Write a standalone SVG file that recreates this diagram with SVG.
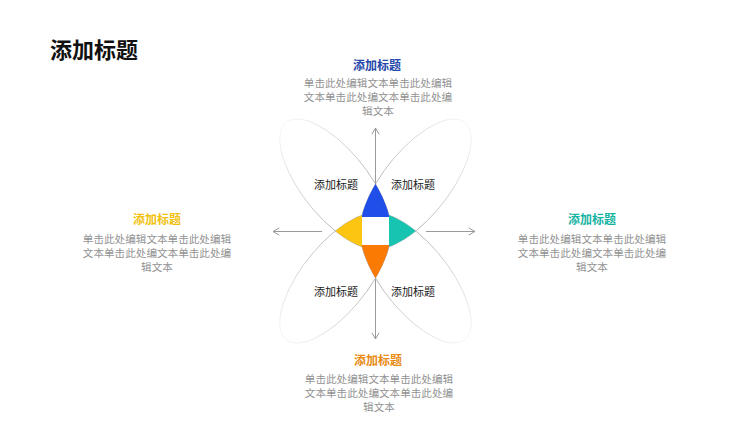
<svg xmlns="http://www.w3.org/2000/svg" width="750" height="422" viewBox="0 0 750 422">
<style>
  .cjk{font-family:"Noto Sans CJK SC","Noto Sans",sans-serif;}
  .h{font-size:12px;font-weight:bold;text-anchor:middle}
  .b{font-size:10.6px;fill:#929292;text-anchor:middle}
  .lab{font-size:11px;fill:#1a1a1a;text-anchor:middle}
  .ell{fill:none;stroke-width:1;vector-effect:non-scaling-stroke}
  .arrow{stroke:#9a9a9a;stroke-width:1;fill:none;marker-end:url(#arr)}
</style>
<defs>
  <linearGradient id="gL" x1="0" y1="0" x2="1" y2="0">
    <stop offset="0" stop-color="#f4f4f4"/>
    <stop offset="0.5" stop-color="#c8c8c8"/>
    <stop offset="1" stop-color="#989898"/>
  </linearGradient>
  <linearGradient id="gR" x1="1" y1="0" x2="0" y2="0">
    <stop offset="0" stop-color="#f4f4f4"/>
    <stop offset="0.5" stop-color="#c8c8c8"/>
    <stop offset="1" stop-color="#989898"/>
  </linearGradient>
  <clipPath id="cUL"><ellipse cx="0" cy="0" rx="72" ry="31" transform="translate(-40.3,-40.3) rotate(45)"/></clipPath>
  <clipPath id="cUR"><ellipse cx="0" cy="0" rx="72" ry="31" transform="translate(40.3,-40.3) rotate(-45)"/></clipPath>
  <clipPath id="cLL"><ellipse cx="0" cy="0" rx="72" ry="31" transform="translate(-40.3,40.3) rotate(-45)"/></clipPath>
  <clipPath id="cLR"><ellipse cx="0" cy="0" rx="72" ry="31" transform="translate(40.3,40.3) rotate(45)"/></clipPath>
  <clipPath id="sT"><rect x="-100" y="-100" width="200" height="88"/></clipPath>
  <clipPath id="sB"><rect x="-100" y="12" width="200" height="88"/></clipPath>
  <clipPath id="sL"><rect x="-100" y="-100" width="86.5" height="200"/></clipPath>
  <clipPath id="sR"><rect x="13.5" y="-100" width="86.5" height="200"/></clipPath>
  <marker id="arr" viewBox="0 0 10 10" refX="9" refY="5" markerWidth="9" markerHeight="9" markerUnits="userSpaceOnUse" orient="auto">
    <path d="M2,1 L9,5 L2,9" fill="none" stroke="#9a9a9a" stroke-width="1.1"/>
  </marker>
</defs>
<rect width="750" height="422" fill="#ffffff"/>

<g id="page-title">
  <text class="cjk" x="50" y="58" font-size="22" font-weight="bold" fill="#111">添加标题</text>
</g>

<g id="flower" transform="translate(375.5,231) scale(1,1.17)">
  <ellipse class="ell" stroke="url(#gL)" cx="0" cy="0" rx="72" ry="31" transform="translate(-40.3,-40.3) rotate(45)"/>
  <ellipse class="ell" stroke="url(#gR)" cx="0" cy="0" rx="72" ry="31" transform="translate(40.3,-40.3) rotate(-45)"/>
  <ellipse class="ell" stroke="url(#gL)" cx="0" cy="0" rx="72" ry="31" transform="translate(-40.3,40.3) rotate(-45)"/>
  <ellipse class="ell" stroke="url(#gR)" cx="0" cy="0" rx="72" ry="31" transform="translate(40.3,40.3) rotate(45)"/>
  <g id="petal-blue" clip-path="url(#sT)"><g clip-path="url(#cUL)"><ellipse cx="0" cy="0" rx="72" ry="31" transform="translate(40.3,-40.3) rotate(-45)" fill="#1f4fe8"/></g></g>
  <g id="petal-teal" clip-path="url(#sR)"><g clip-path="url(#cUR)"><ellipse cx="0" cy="0" rx="72" ry="31" transform="translate(40.3,40.3) rotate(45)" fill="#17c4b2"/></g></g>
  <g id="petal-yellow" clip-path="url(#sL)"><g clip-path="url(#cUL)"><ellipse cx="0" cy="0" rx="72" ry="31" transform="translate(-40.3,40.3) rotate(-45)" fill="#fbc512"/></g></g>
  <g id="petal-orange" clip-path="url(#sB)"><g clip-path="url(#cLL)"><ellipse cx="0" cy="0" rx="72" ry="31" transform="translate(40.3,40.3) rotate(45)" fill="#fb7a04"/></g></g>
  <rect id="center" x="-13.5" y="-12" width="27" height="24" rx="4" ry="3.4" fill="#ffffff"/>
</g>

<g id="connectors">
  <path class="arrow" d="M375.5,184 L375.5,128"/>
  <path class="arrow" d="M375.5,279 L375.5,339"/>
  <path class="arrow" d="M322,231.5 L273,231.5"/>
  <path class="arrow" d="M426,231.5 L475,231.5"/>
</g>

<g id="label-ul"><text class="cjk lab" x="336" y="189">添加标题</text></g>
<g id="label-ur"><text class="cjk lab" x="413" y="189">添加标题</text></g>
<g id="label-ll"><text class="cjk lab" x="336" y="296">添加标题</text></g>
<g id="label-lr"><text class="cjk lab" x="413" y="296">添加标题</text></g>

<g id="block-top">
  <text class="cjk h" x="377" y="70" fill="#2346a8">添加标题</text>
  <text class="cjk b" x="378" y="86.5">单击此处编辑文本单击此处编辑</text>
  <text class="cjk b" x="378" y="100.5">文本单击此处编文本单击此处编</text>
  <text class="cjk b" x="378" y="114.5">辑文本</text>
</g>
<g id="block-left">
  <text class="cjk h" x="157" y="224" fill="#f2c10f">添加标题</text>
  <text class="cjk b" x="157" y="242.5">单击此处编辑文本单击此处编辑</text>
  <text class="cjk b" x="157" y="256.5">文本单击此处编文本单击此处编</text>
  <text class="cjk b" x="157" y="270.5">辑文本</text>
</g>
<g id="block-right">
  <text class="cjk h" x="592" y="224" fill="#17b3a3">添加标题</text>
  <text class="cjk b" x="592" y="242.5">单击此处编辑文本单击此处编辑</text>
  <text class="cjk b" x="592" y="256.5">文本单击此处编文本单击此处编</text>
  <text class="cjk b" x="592" y="270.5">辑文本</text>
</g>
<g id="block-bottom">
  <text class="cjk h" x="378" y="365" fill="#e98a12">添加标题</text>
  <text class="cjk b" x="379" y="382.5">单击此处编辑文本单击此处编辑</text>
  <text class="cjk b" x="379" y="396.5">文本单击此处编文本单击此处编</text>
  <text class="cjk b" x="379" y="410.5">辑文本</text>
</g>
</svg>
